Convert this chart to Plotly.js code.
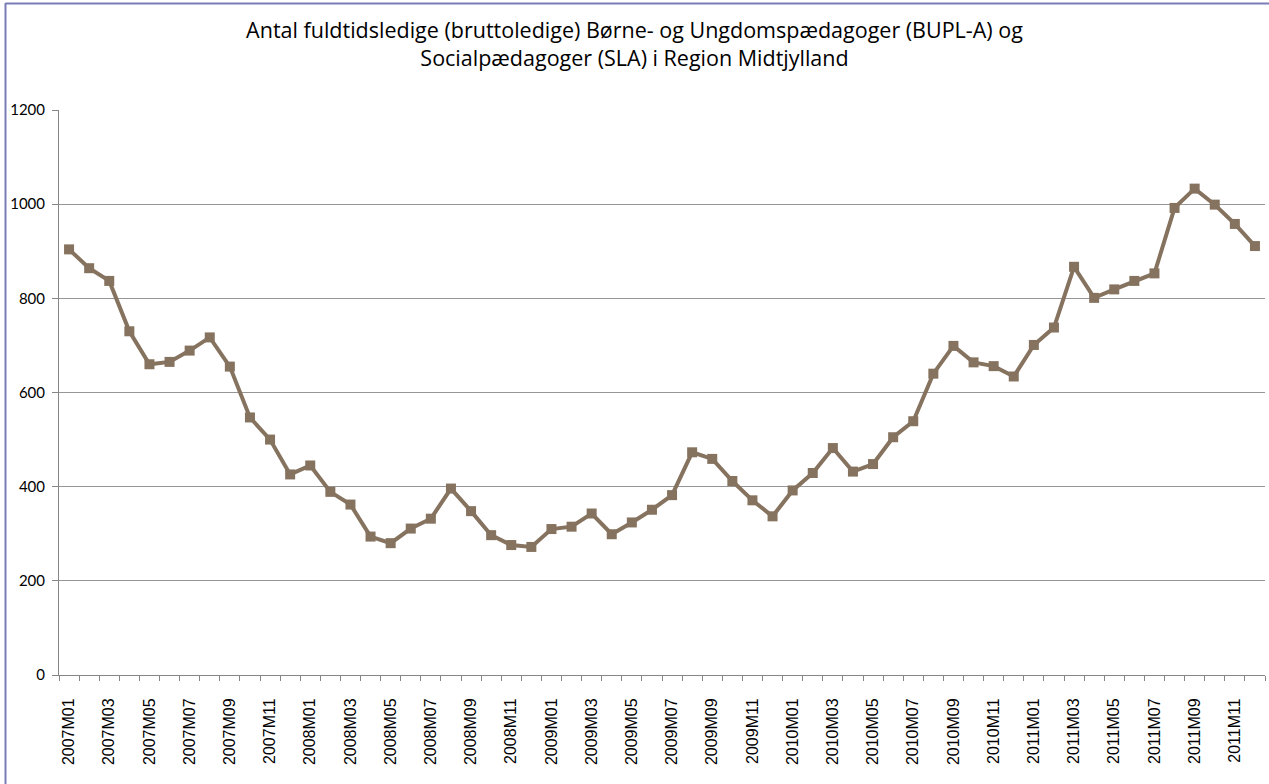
<!DOCTYPE html>
<html>
<head>
<meta charset="utf-8">
<script src="https://cdn.plot.ly/plotly-3.0.1.min.js"></script>
<style>
  html, body { margin: 0; padding: 0; background: #fff; }
  #chart { width: 1269px; height: 784px; }
</style>
</head>
<body>
<div id="chart"></div>
<script>
const months = [
  "2007M01","2007M02","2007M03","2007M04","2007M05","2007M06","2007M07","2007M08","2007M09","2007M10","2007M11","2007M12",
  "2008M01","2008M02","2008M03","2008M04","2008M05","2008M06","2008M07","2008M08","2008M09","2008M10","2008M11","2008M12",
  "2009M01","2009M02","2009M03","2009M04","2009M05","2009M06","2009M07","2009M08","2009M09","2009M10","2009M11","2009M12",
  "2010M01","2010M02","2010M03","2010M04","2010M05","2010M06","2010M07","2010M08","2010M09","2010M10","2010M11","2010M12",
  "2011M01","2011M02","2011M03","2011M04","2011M05","2011M06","2011M07","2011M08","2011M09","2011M10","2011M11","2011M12"
];
const ledige = [
  904, 864, 837, 730, 660, 665, 689, 717, 655, 547, 500, 426,
  445, 389, 362, 294, 280, 311, 332, 396, 348, 297, 276, 272,
  310, 315, 343, 299, 324, 351, 382, 473, 459, 412, 371, 337,
  392, 429, 482, 432, 448, 505, 539, 640, 699, 664, 656, 634,
  701, 738, 867, 801, 819, 837, 853, 992, 1033, 999, 958, 911
];
const tickLabels = months.map((m, i) => (i % 2 === 0 ? m : ""));
const yTicks = [0, 200, 400, 600, 800, 1000, 1200];
const titleText = "Antal fuldtidsledige (bruttoledige) Børne- og Ungdomspædagoger (BUPL-A) og<br>Socialpædagoger (SLA) i Region Midtjylland";

const trace = {
  x: months,
  y: ledige,
  type: "scatter",
  mode: "lines+markers",
  line: { color: "#86735f", width: 4 },
  marker: { symbol: "square", size: 10, color: "#86735f" },
  hoverinfo: "x+y"
};

const layout = {
  width: 1269,
  height: 784,
  margin: { l: 59, r: 4, t: 110, b: 109 },
  paper_bgcolor: "#ffffff",
  plot_bgcolor: "#ffffff",
  showlegend: false,
  title: {
    text: titleText,
    x: 0.5, xref: "container", xanchor: "center",
    y: 1 - 38 / 784, yref: "container", yanchor: "middle",
    font: { family: "'Open Sans', Lato, sans-serif", size: 21.5, color: "#000" }
  },
  xaxis: {
    type: "category",
    tickmode: "array",
    tickvals: months,
    ticktext: tickLabels,
    tickson: "boundaries",
    ticks: "outside",
    ticklen: 5,
    tickcolor: "#868686",
    tickangle: -90,
    ticklabelstandoff: 16,
    tickfont: { family: "'Liberation Sans', Arial, sans-serif", size: 16, color: "#000" },
    showline: true,
    linecolor: "#868686",
    linewidth: 1,
    showgrid: false,
    zeroline: false,
    range: [-0.5, 59.5],
    fixedrange: true
  },
  yaxis: {
    range: [0, 1200],
    tickmode: "array",
    tickvals: yTicks,
    ticktext: yTicks.map(String),
    ticks: "outside",
    ticklen: 6,
    tickcolor: "#868686",
    ticklabelstandoff: 4,
    tickfont: { family: "Lato, 'Open Sans', sans-serif", size: 15, color: "#000" },
    showline: true,
    linecolor: "#868686",
    linewidth: 1,
    showgrid: true,
    gridcolor: "#969696",
    gridwidth: 1,
    zeroline: false,
    fixedrange: true
  },
  shapes: [
    { type: "line", xref: "paper", yref: "paper",
      x0: (5.5 - 59) / 1206, x1: (5.5 - 59) / 1206, y0: (675 - 3) / 565, y1: (675 - 790) / 565,
      line: { color: "#7b7bb8", width: 2 } },
    { type: "line", xref: "paper", yref: "paper",
      x0: (5.5 - 59) / 1206, x1: (1269 - 59) / 1206, y0: (675 - 3.5) / 565, y1: (675 - 3.5) / 565,
      line: { color: "#7b7bb8", width: 2 } }
  ]
};

Plotly.newPlot("chart", [trace], layout, { displayModeBar: false, staticPlot: true });
</script>
</body>
</html>
